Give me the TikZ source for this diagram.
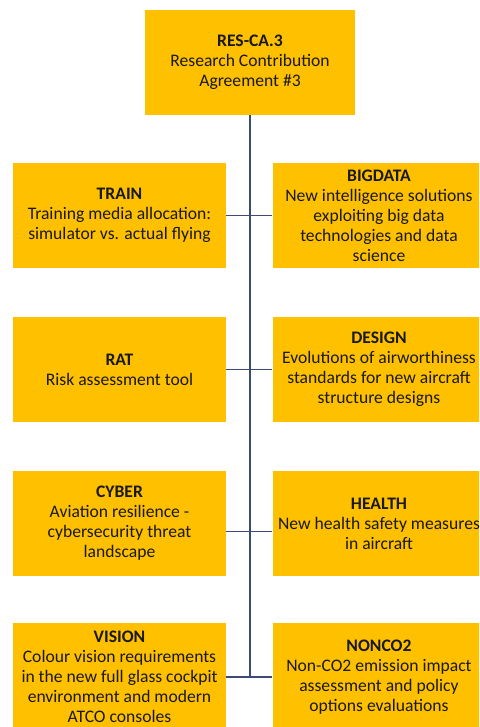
\documentclass[tikz,border=0pt]{standalone}
\usepackage{fontspec}
\setmainfont{Carlito}
\usetikzlibrary{positioning}
\definecolor{boxgold}{RGB}{255,192,0}
\definecolor{linkblue}{RGB}{60,75,118}

\begin{document}
\begin{tikzpicture}[x=1pt,y=-1pt,
	box/.style={fill=boxgold,text=black!90,minimum width=213pt,minimum height=105pt,
		inner sep=0pt,align=center,font=\fontsize{17.6}{20}\selectfont},
	link/.style={linkblue,line width=1.3pt}]
	\useasboundingbox (0,0) rectangle (479,727);
	\clip (0,0) rectangle (479,727);

	\node[box,minimum width=210pt] (resca) at (250,62.5)
		{\textbf{RES-CA.3}\\Research Contribution\\Agreement \#3};

	% left column
	\node[box] (train) at (119.5,215.5)
		{\textbf{TRAIN}\\Training media allocation:\\simulator vs. actual flying};
	\node[box] (rat) at (119.5,369.5)
		{\textbf{RAT}\\Risk assessment tool};
	\node[box] (cyber) at (119.5,523.5)
		{\textbf{CYBER}\\Aviation resilience -\\cybersecurity threat\\landscape};
	\node[box,minimum height=108pt] (vision) at (119.5,677)
		{\textbf{VISION}\\Colour vision requirements\\in the new full glass cockpit\\environment and modern\\ATCO consoles};

	% right column
	\node[box] (bigdata) at (379,215.5)
		{\textbf{BIGDATA}\\New intelligence solutions\\exploiting big data\\technologies and data\\science};
	\node[box] (design) at (379,369.5)
		{\textbf{DESIGN}\\Evolutions of airworthiness\\standards for new aircraft\\structure designs};
	\node[box] (health) at (379,523.5)
		{\textbf{HEALTH}\\New health safety measures\\in aircraft};
	\node[box,minimum height=108pt] (nonco2) at (379,677)
		{\textbf{NONCO2}\\Non-CO2 emission impact\\assessment and policy\\options evaluations};

	\draw[link] (resca.south) -- (resca.south |- vision.east);
	\draw[link] (train.east) -- (bigdata.west);
	\draw[link] (rat.east) -- (design.west);
	\draw[link] ([yshift=-8pt]cyber.east) -- ([yshift=-8pt]health.west);
	\draw[link] (vision.east) -- (nonco2.west);
\end{tikzpicture}
\end{document}
